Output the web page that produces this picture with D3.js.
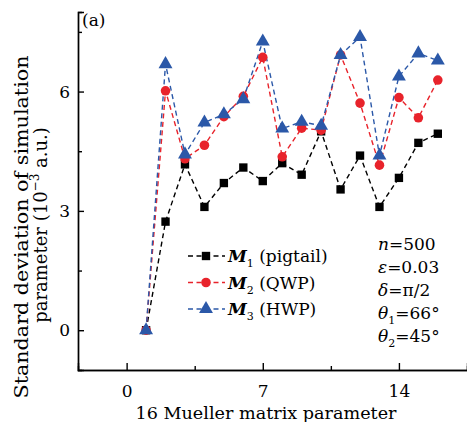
<!DOCTYPE html>
<html>
<head>
<meta charset="utf-8">
<script src="https://cdn.jsdelivr.net/npm/d3@7"></script>
<style>
  body { margin: 0; background: #fff; }
  svg { display: block; }
  text { font-family: "DejaVu Serif", serif; fill: #000; }
</style>
</head>
<body>
<div id="chart"></div>
<script>
// values
const params = [1, 2, 3, 4, 5, 6, 7, 8, 9, 10, 11, 12, 13, 14, 15, 16];
const m1 = [0, 2.73, 4.17, 3.1, 3.7, 4.09, 3.75, 4.2, 3.91, 5.0, 3.54, 4.39, 3.1, 3.83, 4.71, 4.94];
const m2 = [0, 6.02, 4.31, 4.65, 5.37, 5.88, 6.86, 4.36, 5.08, 5.03, 6.92, 5.71, 4.15, 5.85, 5.34, 6.29];
const m3 = [0, 6.69, 4.42, 5.22, 5.43, 5.81, 7.26, 5.07, 5.24, 5.14, 6.92, 7.37, 4.39, 6.38, 6.96, 6.78];
const xTicks = [0, 7, 14];
const xMinor = [3.5, 10.5];
const yTicks = [0, 3, 6];
const yMinor = [1.5, 4.5, 7.5];

const width = 467, height = 422;
const margin = {top: 12, right: 0, bottom: 52, left: 78};

const series = [
  {name: "1", label: " (pigtail)", values: m1, color: "#000000", symbol: d3.symbolSquare, size: 70},
  {name: "2", label: " (QWP)", values: m2, color: "#e8232b", symbol: d3.symbolCircle, size: 72},
  {name: "3", label: " (HWP)", values: m3, color: "#2b58a8", symbol: d3.symbolTriangle, size: 84}
];

const svg = d3.select("#chart").append("svg")
    .attr("width", width)
    .attr("height", height);

const x = d3.scaleLinear()
    .domain([-2.5, 17.5])
    .range([margin.left, width - margin.right]);
const y = d3.scaleLinear()
    .domain([-1, 8])
    .range([height - margin.bottom, margin.top]);

// axes (ticks point inward)
svg.append("g")
    .attr("transform", `translate(0,${height - margin.bottom})`)
    .call(d3.axisBottom(x).tickValues(xTicks).tickSize(-7).tickPadding(15).tickFormat(d3.format("d")));
svg.append("g")
    .attr("transform", `translate(0,${height - margin.bottom})`)
    .call(d3.axisBottom(x).tickValues(xMinor).tickSize(-4).tickFormat(""));
svg.append("g")
    .attr("transform", `translate(${margin.left},0)`)
    .call(d3.axisLeft(y).tickValues(yTicks).tickSize(-6).tickPadding(8).tickFormat(d3.format("d")));
svg.append("g")
    .attr("transform", `translate(${margin.left},0)`)
    .call(d3.axisLeft(y).tickValues(yMinor).tickSize(-4).tickFormat(""));

svg.selectAll(".domain, .tick line")
    .attr("stroke", "#000")
    .attr("stroke-width", 1.4);
svg.selectAll(".tick text")
    .style("font-family", "DejaVu Serif, serif")
    .style("font-size", "17px");

// axis titles
svg.append("text")
    .attr("x", 266)
    .attr("y", 419)
    .attr("text-anchor", "middle")
    .attr("textLength", 261)
    .attr("lengthAdjust", "spacingAndGlyphs")
    .style("font-size", "17px")
    .text("16 Mueller matrix parameter");

svg.append("text")
    .attr("transform", "translate(28,227) rotate(-90)")
    .attr("text-anchor", "middle")
    .attr("textLength", 343)
    .attr("lengthAdjust", "spacingAndGlyphs")
    .style("font-size", "18px")
    .text("Standard deviation of simulation");

const line2 = svg.append("text")
    .attr("transform", "translate(47,225) rotate(-90)")
    .attr("text-anchor", "middle")
    .style("font-size", "18px");
line2.append("tspan").text("parameter (10");
line2.append("tspan").attr("dy", -8).style("font-size", "12px").text("−3");
line2.append("tspan").attr("dy", 8).text(" a.u.)");

svg.append("text")
    .attr("x", 82)
    .attr("y", 26)
    .style("font-size", "17px")
    .text("(a)");

// series
const line = d3.line()
    .x((d, i) => x(params[i]))
    .y(d => y(d));

series.forEach(s => {
  svg.append("path")
      .datum(s.values)
      .attr("fill", "none")
      .attr("stroke", s.color)
      .attr("stroke-width", 1.4)
      .attr("stroke-dasharray", "5,3.5")
      .attr("d", line);
});

series.forEach(s => {
  svg.append("g")
    .selectAll("path")
    .data(s.values)
    .join("path")
      .attr("transform", (d, i) => `translate(${x(params[i])},${y(d)})`)
      .attr("d", d3.symbol().type(s.symbol).size(s.size))
      .attr("fill", s.color);
});

// legend
const legend = svg.append("g").attr("transform", "translate(188,256)");
series.forEach((s, i) => {
  const row = legend.append("g").attr("transform", `translate(0,${i * 26.5})`);
  row.append("line")
      .attr("x1", 0).attr("x2", 37)
      .attr("stroke", s.color)
      .attr("stroke-width", 1.4)
      .attr("stroke-dasharray", "5,3.5");
  row.append("path")
      .attr("transform", "translate(18,0)")
      .attr("d", d3.symbol().type(s.symbol).size(s.size))
      .attr("fill", s.color);
  const t = row.append("text")
      .attr("x", 40)
      .attr("y", 6)
      .style("font-size", "17px");
  t.append("tspan").style("font-weight", "bold").style("font-style", "italic").text("M");
  t.append("tspan").attr("dy", 5).style("font-size", "11px").text(s.name);
  t.append("tspan").attr("dy", -5).text(s.label);
});

// simulation settings
const notes = [
  {v: "n", sub: "", rest: "=500"},
  {v: "ε", sub: "", rest: "=0.03"},
  {v: "δ", sub: "", rest: "=π/2"},
  {v: "θ", sub: "1", rest: "=66°"},
  {v: "θ", sub: "2", rest: "=45°"}
];
const noteG = svg.append("g").attr("transform", "translate(378,250)");
notes.forEach((n, i) => {
  const t = noteG.append("text")
      .attr("y", i * 23)
      .style("font-size", "17px");
  t.append("tspan").style("font-style", "italic").text(n.v);
  if (n.sub) {
    t.append("tspan").attr("dy", 5).style("font-size", "11px").text(n.sub);
    t.append("tspan").attr("dy", -5).text(n.rest);
  } else {
    t.append("tspan").text(n.rest);
  }
});
</script>
</body>
</html>
